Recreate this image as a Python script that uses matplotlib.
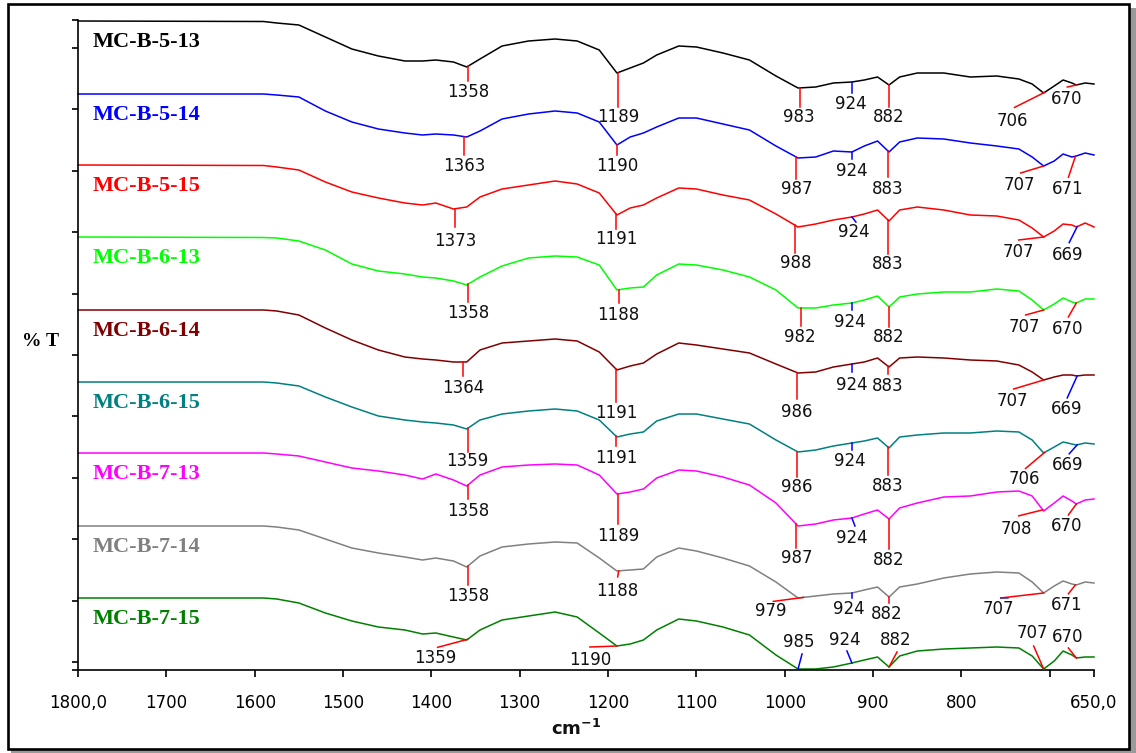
import numpy as np
import matplotlib
matplotlib.use('Agg')
import matplotlib.pyplot as plt
from matplotlib.patches import Rectangle

# wavenumber grid (cm-1) shared by all spectra
wavenumber = [1800, 1590, 1575, 1550, 1520, 1490, 1460, 1430, 1410, 1395, 1375, 1360,
              1345, 1320, 1290, 1260, 1235, 1210, 1190, 1175, 1160, 1145, 1120, 1100,
              1070, 1040, 1010, 985, 965, 945, 924, 910, 895, 882, 870, 850,
              820, 790, 760, 735, 720, 707, 695, 685, 675, 670, 660, 650]

# stacked %T traces (arbitrary offset units)
t_5_13 = [649, 648.5, 647, 645, 633, 621, 614, 609, 609, 610, 608, 603, 611, 624, 629, 631,
          629, 620, 597, 602, 607, 615, 624, 623, 617, 610, 594, 582, 583, 587, 588, 590,
          593, 585, 593, 597, 597, 593, 594, 591, 586, 577, 584, 590, 587, 585, 587, 586]
t_5_14 = [576, 576, 575, 573, 559, 548, 541, 537, 535, 536, 535, 533, 539, 551, 556, 559,
          557, 548, 525, 533, 537, 543, 552, 552, 546, 540, 524, 512, 513, 519, 518, 524,
          529, 518, 528, 532, 531, 527, 524, 521, 513, 504, 509, 516, 513, 514, 517, 515]
t_5_15 = [505, 504.5, 503, 500, 488, 478, 472, 467, 465, 467, 461, 463, 473, 481, 485, 489,
          486, 477, 455, 462, 465, 472, 482, 481, 475, 470, 456, 443, 446, 450, 453, 456,
          460, 449, 460, 463, 460, 455, 454, 450, 442, 433, 439, 446, 445, 443, 447, 443]
t_6_13 = [433, 432.5, 432, 429, 420, 406, 399, 396, 393, 392, 389, 385, 393, 404, 412, 414,
          413, 405, 380, 382, 383, 395, 406, 405, 400, 393, 380, 362, 362, 365, 367, 370,
          374, 363, 373, 376, 378, 378, 381, 379, 370, 360, 366, 372, 368, 367, 371, 371]
t_6_14 = [360, 360, 359, 355, 342, 330, 320, 313, 311, 310, 308, 308, 320, 327, 329, 331,
          329, 318, 300, 304, 307, 316, 327, 325, 321, 317, 306, 297, 298, 303, 306, 308,
          312, 303, 312, 313, 312, 310, 309, 305, 298, 290, 293, 295, 295, 294, 295, 295]
t_6_15 = [288, 288, 287, 284, 273, 263, 254, 250, 248, 247, 245, 241, 250, 256, 259, 261,
          259, 250, 233, 236, 238, 249, 256, 256, 251, 246, 230, 218, 220, 224, 227, 229,
          232, 222, 233, 235, 237, 237, 239, 238, 230, 217, 223, 228, 226, 225, 227, 226]
t_7_13 = [217, 217, 216, 214, 208, 202, 199, 195, 191, 196, 190, 184, 195, 203, 205, 206,
          205, 195, 176, 178, 181, 192, 200, 199, 193, 185, 167, 144, 146, 150, 152, 156,
          160, 151, 162, 167, 173, 174, 178, 179, 174, 159, 167, 174, 169, 166, 170, 171]
t_7_14 = [144, 144, 143, 140, 131, 122, 117, 113, 110, 112, 109, 103, 114, 123, 126, 128,
          127, 112, 99, 100, 101, 113, 122, 119, 112, 104, 88, 72, 74, 76, 77, 80,
          83, 73, 83, 86, 92, 96, 98, 97, 88, 77, 84, 89, 86, 85, 88, 87]
t_7_15 = [72, 72, 71, 67, 57, 49, 43, 40, 36, 37, 33, 30, 40, 50, 54, 58,
          53, 37, 24, 26, 30, 40, 51, 49, 43, 35, 15, 1, 1, 3, 7, 10,
          13, 3, 14, 19, 21, 22, 23, 22, 14, 1, 9, 19, 15, 12, 13, 13]

names = ['MC-B-5-13', 'MC-B-5-14', 'MC-B-5-15', 'MC-B-6-13', 'MC-B-6-14',
         'MC-B-6-15', 'MC-B-7-13', 'MC-B-7-14', 'MC-B-7-15']
traces = [t_5_13, t_5_14, t_5_15, t_6_13, t_6_14, t_6_15, t_7_13, t_7_14, t_7_15]
colors = ['#000000', '#0000ff', '#ff0000', '#00ff00', '#800000',
          '#008080', '#ff00ff', '#808080', '#008000']

# labelled peaks per spectrum
peaks = [
    [1358, 1189, 983, 924, 882, 706, 670],
    [1363, 1190, 987, 924, 883, 707, 671],
    [1373, 1191, 988, 924, 883, 707, 669],
    [1358, 1188, 982, 924, 882, 707, 670],
    [1364, 1191, 986, 924, 883, 707, 669],
    [1359, 1191, 986, 924, 883, 706, 669],
    [1358, 1189, 987, 924, 882, 708, 670],
    [1358, 1188, 979, 924, 882, 707, 671],
    [1359, 1190, 985, 924, 882, 707, 670],
]

# marker layout: (line colour, line end dx, dy, text dx, dy) in pixels, dy downwards
R, B = '#ff0000', '#0000ff'
marks = [
    [(R, 0, 15, 0, 26), (R, 0, 34, 0, 44), (R, 0, 19, -1, 29), (B, 0, 11, -1, 22),
     (R, 0, 22, 0, 32), (R, -30, 15, -32, 29), (R, -9, 2, -10, 14)],
    [(R, 0, 18, 0, 29), (R, 0, 10, 0, 21), (R, 0, 22, 0, 32), (B, 0, 7, 0, 19),
     (R, 0, 26, 0, 38), (R, -23, 7, -24, 19), (R, -7, 21, -8, 33)],
    [(R, 0, 18, 0, 32), (R, 0, 15, 0, 25), (R, 0, 28, 0, 38), (B, 4, 5, 2, 15),
     (R, 0, 34, 0, 44), (R, -25, 3, -25, 15), (B, -8, 16, -10, 28)],
    [(R, 0, 18, 0, 29), (R, 0, 13, 0, 25), (R, 0, 18, -1, 29), (B, 0, 7, -2, 19),
     (R, 0, 20, 0, 30), (R, -18, 5, -19, 17), (R, -8, 14, -9, 26)],
    [(R, 0, 14, 0, 26), (R, 0, 33, 0, 44), (R, 0, 26, 0, 39), (B, 0, 8, 0, 21),
     (R, 0, 8, 0, 20), (R, -30, 9, -31, 21), (B, -10, 22, -11, 33)],
    [(R, 0, 24, 0, 33), (R, 0, 10, 0, 22), (R, 0, 25, 0, 35), (B, 0, 7, -2, 18),
     (R, 0, 28, 0, 39), (R, -19, 16, -20, 27), (B, -8, 9, -10, 20)],
    [(R, 0, 14, 0, 26), (R, 0, 30, 0, 42), (R, 0, 24, 0, 34), (B, 3, 8, 0, 20),
     (R, 0, 30, 0, 41), (R, -24, 6, -26, 19), (R, -8, 11, -10, 22)],
    [(R, 0, 19, 0, 30), (R, -1, 6, -1, 20), (R, -30, 4, -33, 14), (B, 0, 5, -3, 16),
     (R, 0, 6, -2, 17), (R, -43, 5, -45, 16), (R, -7, 9, -9, 20)],
    [(R, -30, 8, -32, 19), (R, -27, 1, -27, 14), (B, 4, -15, 1, -27), (B, -5, -12, -7, -23),
     (R, 8, -15, 7, -27), (R, -10, -23, -11, -36), (R, -8, -10, -9, -21)],
]

W, H = 1136, 753
fig = plt.figure(figsize=(W / 100, H / 100), dpi=100)
fig.patch.set_facecolor('white')

x0, x1, y0, y1 = 78, 1094, 20, 670
ax = fig.add_axes([x0 / W, 1 - y1 / H, (x1 - x0) / W, (y1 - y0) / H])
ax.set_xlim(1800, 650)
ax.set_ylim(0, 650)
wn_per_px = 1150 / (x1 - x0)

for name, tr, col, pk, mk in zip(names, traces, colors, peaks, marks):
    ax.plot(wavenumber, tr, color=col, lw=1.1, clip_on=False, zorder=2)
    ax.text(1783, tr[0] - 21, name, color=col, fontsize=16, fontweight='bold',
            family='Liberation Serif', ha='left', va='center')
    for p, (c, ex, ey, tx, ty) in zip(pk, mk):
        h = np.interp(p, wavenumber[::-1], tr[::-1])
        ax.plot([p, p - ex * wn_per_px], [h, h - ey], color=c, lw=1.1,
                clip_on=False, zorder=3)
        ax.text(p - tx * wn_per_px, h - ty, str(p), fontsize=12, ha='center',
                va='center', color='#111111', zorder=4)

# small blue end piece on the 707 marker of MC-B-7-14
h707 = np.interp(707, wavenumber[::-1], t_7_14[::-1])
ax.plot([707 + 43 * wn_per_px, 707 + 36 * wn_per_px], [h707 - 5, h707 - 5],
        color='#3030c0', lw=1.1, zorder=3)

for s in ['top', 'right']:
    ax.spines[s].set_visible(False)
for s in ['left', 'bottom']:
    ax.spines[s].set_linewidth(1.2)

ax.set_xticks([1800, 1700, 1600, 1500, 1400, 1300, 1200, 1100, 1000, 900, 800, 700, 650])
ax.set_xticklabels(['1800,0', '1700', '1600', '1500', '1400', '1300', '1200', '1100',
                    '1000', '900', '800', '', '650,0'])
ax.set_yticks(np.r_[650, np.linspace(622, 8, 11), 0])
ax.set_yticklabels([])
ax.tick_params(axis='x', length=5, width=1.2, labelsize=12, pad=12)
ax.tick_params(axis='y', length=4, width=1.2)

fig.text(40 / W, 1 - 341 / H, '% T', fontsize=14, fontweight='bold',
         family='Liberation Serif', ha='center', va='center')
fig.text(576 / W, 1 - 729 / H, r'cm$^{\mathbf{-1}}$', fontsize=13, fontweight='bold',
         ha='center', va='center', color='#111111')

# frame with drop shadow
fig.add_artist(Rectangle((11 / W, 0), (1125 / W), 1 - 8 / H, transform=fig.transFigure,
                         facecolor='#9a9a9a', edgecolor='none', zorder=-2))
fig.add_artist(Rectangle((7.5 / W, 4 / H), 1121 / W, 745 / H, transform=fig.transFigure,
                         facecolor='white', edgecolor='black', lw=1.9, zorder=-1))

fig.savefig('out.png', dpi=100)
